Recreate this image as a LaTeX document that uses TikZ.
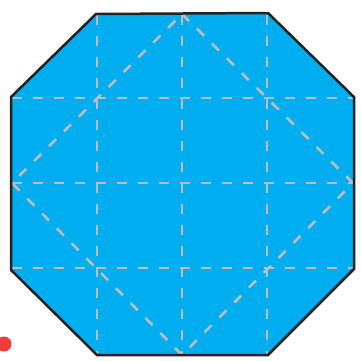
\documentclass[tikz,border=0pt]{standalone}
\usepackage{tikz}
\usepackage{xcolor}
\definecolor{sheet}{HTML}{00AEEF}
\definecolor{edge}{HTML}{222222}
\definecolor{crease}{HTML}{BDBDBD}
\definecolor{marker}{HTML}{EE3B3B}

\begin{document}
\begin{tikzpicture}[x=1pt,y=-1pt,
    creaseline/.style={crease,line width=2.6pt,dash pattern=on 10pt off 11pt}]
    \useasboundingbox (0,0) rectangle (361,360);
    % octagon corners
    \coordinate (tl) at (96,14);
    \coordinate (tr) at (268,13);
    \coordinate (rt) at (354,97);
    \coordinate (rb) at (354,269);
    \coordinate (br) at (268,355);
    \coordinate (bl) at (97,355);
    \coordinate (lb) at (11,270);
    \coordinate (lt) at (11,97);
    \fill[sheet] (tl) -- (tr) -- (rt) -- (rb) -- (br) -- (bl) -- (lb) -- (lt) -- cycle;

    % creases
    \foreach \x in {97,182,267} {
      \draw[creaseline] (\x,15) -- (\x,354);
    }
    \foreach \y in {98,183,268} {
      \draw[creaseline] (12,\y) -- (353,\y);
    }
    \coordinate (n) at (182,14);
    \coordinate (e) at (353,183);
    \coordinate (s) at (182,355);
    \coordinate (w) at (12,183);
    \draw[creaseline] (n) -- (e) -- (s) -- (w) -- cycle;

    \draw[edge,line width=2.5pt,line join=miter] (tl) -- (tr) -- (rt) -- (rb) -- (br) -- (bl) -- (lb) -- (lt) -- cycle;

    \fill[marker] (4,344) circle (7.5);
  \end{tikzpicture}
\end{document}
